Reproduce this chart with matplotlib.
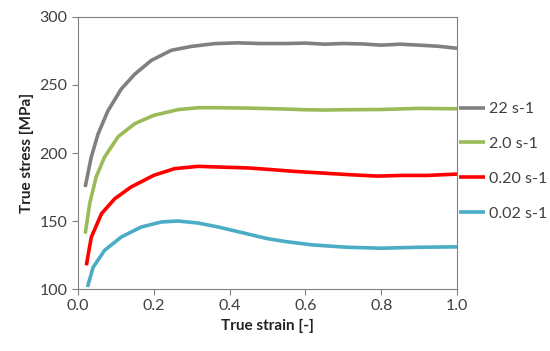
import matplotlib
matplotlib.use('Agg')
import matplotlib.pyplot as plt

plt.rcParams['font.family'] = ['Lato', 'DejaVu Sans']

# data
strain_22 = [0.019, 0.035, 0.053, 0.079, 0.114, 0.15, 0.193, 0.246, 0.30, 0.36, 0.42, 0.48, 0.55, 0.6, 0.65, 0.7, 0.75, 0.8, 0.85, 0.9, 0.95, 1.0]
stress_22 = [175, 197, 214, 231, 247, 258, 268, 275.5, 278.4, 280.4, 281, 280.5, 280.5, 280.8, 280, 280.5, 280.2, 279.3, 280, 279.3, 278.5, 277]

strain_2 = [0.019, 0.031, 0.048, 0.07, 0.106, 0.15, 0.2, 0.264, 0.317, 0.37, 0.45, 0.55, 0.6, 0.65, 0.7, 0.8, 0.9, 1.0]
stress_2 = [140.7, 163, 182.4, 197, 212, 221.6, 227.7, 231.9, 233.3, 233.3, 233, 232.3, 231.8, 231.6, 231.8, 232, 232.8, 232.5]

strain_020 = [0.022, 0.035, 0.062, 0.097, 0.14, 0.2, 0.255, 0.317, 0.37, 0.45, 0.5, 0.57, 0.66, 0.72, 0.79, 0.85, 0.92, 1.0]
stress_020 = [117.4, 138, 155.4, 166.4, 175, 183.6, 188.5, 190.2, 189.7, 189, 188, 186.5, 185, 184, 183, 183.5, 183.5, 184.5]

strain_002 = [0.025, 0.04, 0.07, 0.114, 0.167, 0.22, 0.264, 0.317, 0.37, 0.44, 0.5, 0.55, 0.62, 0.71, 0.8, 0.9, 1.0]
stress_002 = [101.5, 116, 128.4, 138.2, 145.6, 149.3, 150, 148.5, 145.6, 141, 137, 134.8, 132.4, 130.7, 130, 130.7, 131]

labels = ['22 s-1', '2.0 s-1', '0.20 s-1', '0.02 s-1']
colors = ['#808080', '#9bbb59', '#ff0000', '#4bacc6']

fig = plt.figure(figsize=(5.5, 3.51), dpi=100)
ax = fig.add_axes([0.1418, 0.1766, 0.6891, 0.775])

series = [(strain_22, stress_22), (strain_2, stress_2), (strain_020, stress_020), (strain_002, stress_002)]
for (x, y), lab, c in zip(series, labels, colors):
    ax.plot(x, y, color=c, lw=2.6, label=lab, solid_capstyle='butt', solid_joinstyle='round')

ax.set_xlim(0, 1.0)
ax.set_ylim(100, 300)
ax.set_xticks([0.0, 0.2, 0.4, 0.6, 0.8, 1.0])
ax.set_yticks([100, 150, 200, 250, 300])
ax.set_xticklabels(['0.0', '0.2', '0.4', '0.6', '0.8', '1.0'])
ax.tick_params(direction='out', length=4, width=0.8, color='#808080',
               labelsize=11.5, labelcolor='#404040')
for s in ax.spines.values():
    s.set_color('#808080')
    s.set_linewidth(0.8)

ax.set_xlabel('True strain [-]', fontsize=11, fontweight='bold', color='#222222')
ax.set_ylabel('True stress [MPa]', fontsize=11, fontweight='bold', color='#222222')

leg = ax.legend(loc='center left', bbox_to_anchor=(1.0, 0.469), frameon=False,
                fontsize=11.5, handlelength=1.6, handletextpad=0.25, labelspacing=1.3,
                borderaxespad=0, borderpad=0.15)
for t in leg.get_texts():
    t.set_color('#404040')

fig.savefig('out.png', dpi=100)
